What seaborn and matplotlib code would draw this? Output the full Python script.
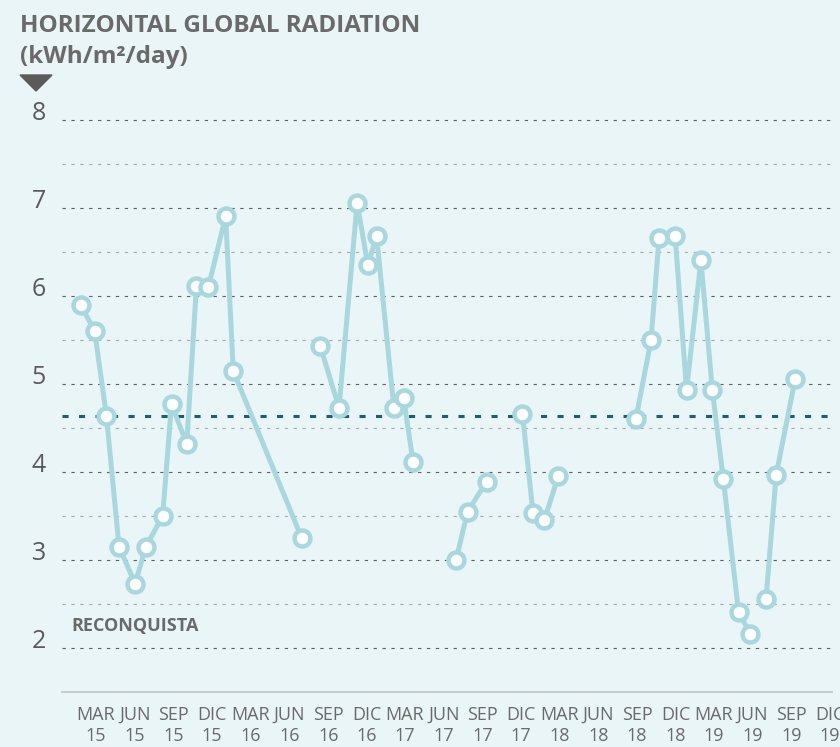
import pandas as pd
import numpy as np
import matplotlib.pyplot as plt
from matplotlib.patches import Polygon
import seaborn as sns

# ===========================
# Data
# ===========================

dates = [
    "2015-01-24", "2015-02-26", "2015-03-26", "2015-04-25", "2015-06-02",
    "2015-06-27", "2015-08-06", "2015-08-27", "2015-10-02", "2015-10-25",
    "2015-11-22", "2016-01-02", "2016-01-20", "2016-06-30",
    "2016-08-13", "2016-09-26", "2016-11-08", "2016-12-03", "2016-12-24",
    "2017-02-03", "2017-02-26", "2017-03-20",
    "2017-06-30", "2017-07-27", "2017-09-10",
    "2017-12-04", "2017-12-29", "2018-01-25", "2018-02-27",
    "2018-08-29", "2018-10-04", "2018-10-23", "2018-11-30", "2018-12-27",
    "2019-01-30", "2019-02-26", "2019-03-24", "2019-04-29", "2019-05-27",
    "2019-07-03", "2019-07-27", "2019-09-10",
]
radiation = [
    5.90, 5.61, 4.64, 3.15, 2.73, 3.15, 3.50, 4.77, 4.32, 6.12,
    6.10, 6.91, 5.15, 3.25,
    5.43, 4.73, 7.06, 6.36, 6.68, 4.73, 4.84, 4.12,
    3.00, 3.55, 3.89,
    4.66, 3.53, 3.46, 3.96,
    4.60, 5.50, 6.66, 6.69, 4.93, 6.41, 4.93, 3.92, 2.41, 2.16,
    2.56, 3.97, 5.06,
]
# consecutive runs of measurements (line is broken between them)
segment = [1] * 14 + [2] * 8 + [3] * 3 + [4] * 4 + [5] * 10 + [6] * 3

mean_value = 4.64

tick_dates = pd.date_range("2015-03-01", "2019-12-01", freq="3MS")
month_names = {3: "MAR", 6: "JUN", 9: "SEP", 12: "DIC"}
tick_labels = [f"{month_names[d.month]}\n{d.strftime('%y')}" for d in tick_dates]

df = pd.DataFrame({
    "date": pd.to_datetime(dates),
    "radiation": radiation,
    "segment": segment,
})

# ===========================
# Style
# ===========================

bg = "#eaf5f7"
line_color = "#a8d7de"
text_gray = "#6a6a6a"

sns.set_theme(style="white")
plt.rcParams["font.family"] = ["Open Sans", "DejaVu Sans"]

fig = plt.figure(figsize=(8.4, 7.47), dpi=100, facecolor=bg)
ax = fig.add_axes([62 / 840, 55 / 747, 770 / 840, 589.3 / 747])
ax.set_facecolor(bg)

# ===========================
# Plot
# ===========================

ax.axhline(mean_value, color="#1d5f6b", lw=2.2, ls=(0, (2, 3.4)), zorder=1)

sns.lineplot(
    data=df,
    x="date",
    y="radiation",
    units="segment",
    estimator=None,
    color=line_color,
    linewidth=3.6,
    marker="o",
    markersize=11.5,
    markerfacecolor="white",
    markeredgecolor=line_color,
    markeredgewidth=3.2,
    ax=ax,
    zorder=3,
)

ax.set_ylim(1.5, 8.2)
ax.set_xlim(pd.Timestamp("2014-12-11"), pd.Timestamp("2019-12-06"))

ax.set_yticks(range(2, 9))
ax.set_yticks(np.arange(2.5, 8, 1), minor=True)
ax.grid(axis="y", which="major", color="#5f5f5f", lw=0.8, ls=(0, (3, 5)))
ax.grid(axis="y", which="minor", color="#a9a9a9", lw=0.8, ls=(0, (3, 5)))
ax.grid(axis="x", visible=False)

ax.set_xticks(tick_dates)
ax.set_xticklabels(tick_labels, linespacing=1.25)

ax.tick_params(axis="y", which="both", length=0, pad=11.5, labelsize=18, labelcolor="#5a5a5a")
ax.tick_params(axis="x", direction="in", length=19, width=1, color="#c4c9ca",
               pad=10, labelsize=13, labelcolor=text_gray)
for lab in ax.get_yticklabels():
    lab.set_va("baseline")

for side in ["left", "right", "top"]:
    ax.spines[side].set_visible(False)
ax.spines["bottom"].set_color("#bfc4c5")
ax.spines["bottom"].set_linewidth(1.2)

ax.set_xlabel("")
ax.set_ylabel("")
leg = ax.get_legend()
if leg is not None:
    leg.remove()

ax.text(9 / 770, 2.25, "RECONQUISTA", transform=ax.get_yaxis_transform(),
        fontsize=13, fontweight="bold", color=text_gray, va="center", ha="left")

# Title and marker triangle
fig.text(20 / 840, 1 - 14 / 747, "HORIZONTAL GLOBAL RADIATION\n(kWh/m²/day)",
         fontsize=17.5, fontweight="bold", color=text_gray, va="top", ha="left",
         linespacing=1.38)
tri = Polygon([[20 / 840, 1 - 75 / 747], [52 / 840, 1 - 75 / 747], [36 / 840, 1 - 91 / 747]],
              closed=True, transform=fig.transFigure, color="#5a5a5a")
fig.patches.append(tri)

plt.savefig("out.png", dpi=100, facecolor=bg)
plt.close()
